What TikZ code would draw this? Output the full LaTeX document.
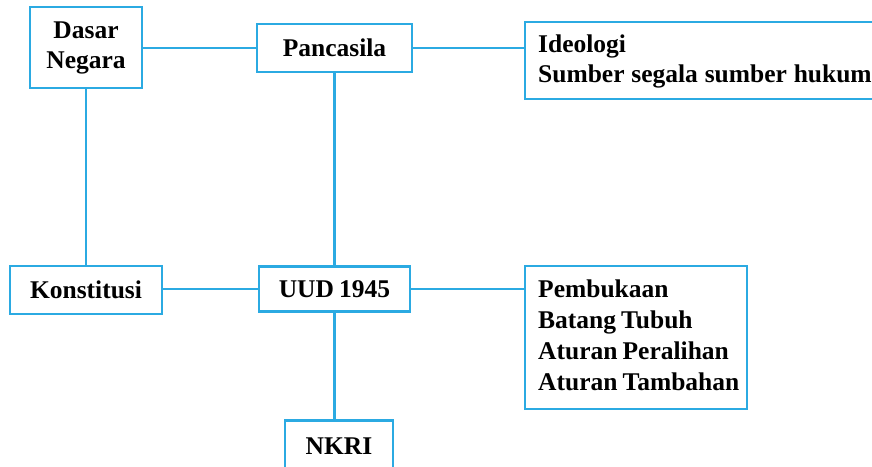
\documentclass[tikz,border=0pt]{standalone}
\usepackage{fontspec}
\setmainfont[WordSpace=0.8]{Liberation Serif}
\definecolor{lineblue}{RGB}{43,170,226}
\tikzset{
  txt/.style={inner sep=0pt, font=\bfseries\fontsize{25.5}{31}\selectfont},
  box/.style={draw=lineblue, line width=2.8pt, fill=white, inner sep=0pt, txt},
  link/.style={draw=lineblue, line width=2.8pt}
}
\begin{document}
\begin{tikzpicture}[x=1pt,y=-1pt]
\useasboundingbox (0,0) rectangle (872,466);
\clip (0,0) rectangle (872,466);
\node[box, minimum width=112pt, minimum height=81pt, align=center] (dasar) at (86,47.5) {Dasar\\[-1pt]Negara};
\node[box, minimum width=155pt, minimum height=48pt] (panc) at (334.5,48) {Pancasila};
\node[box, minimum width=375pt, minimum height=77pt] (ideo) at (712.5,60.5) {};
\node[txt, align=left, anchor=base west] (ideotext) at (538,82) {Ideologi\\[-1pt]\spaceskip=6.8pt Sumber segala sumber hukum};
\node[box, minimum width=152pt, minimum height=48pt] (konst) at (86,290) {Konstitusi};
\node[box, minimum width=151pt, minimum height=45pt] (uud) at (334.5,289) {UUD 1945};
\node[box, minimum width=222pt, minimum height=143pt] (pemb) at (636,337.5) {};
\node[txt, align=left, anchor=base west] (pembtext) at (538,390) {Pembukaan\\Batang Tubuh\\Aturan Peralihan\\Aturan Tambahan};
\node[box, minimum width=108pt, minimum height=56pt, anchor=north] (nkri) at (339,419) {\raisebox{4pt}{NKRI}};
\draw[link] (panc.west) -- (panc.west -| dasar.east);
\draw[link] (panc.east) -- (panc.east -| ideo.west);
\draw[link] (dasar.south) -- (dasar.south |- konst.north);
\draw[link] (panc.south) -- (panc.south |- uud.north);
\draw[link] (uud.west) -- (uud.west -| konst.east);
\draw[link] (uud.east) -- (uud.east -| pemb.west);
\draw[link] (uud.south) -- (uud.south |- nkri.north);
\end{tikzpicture}
\end{document}
